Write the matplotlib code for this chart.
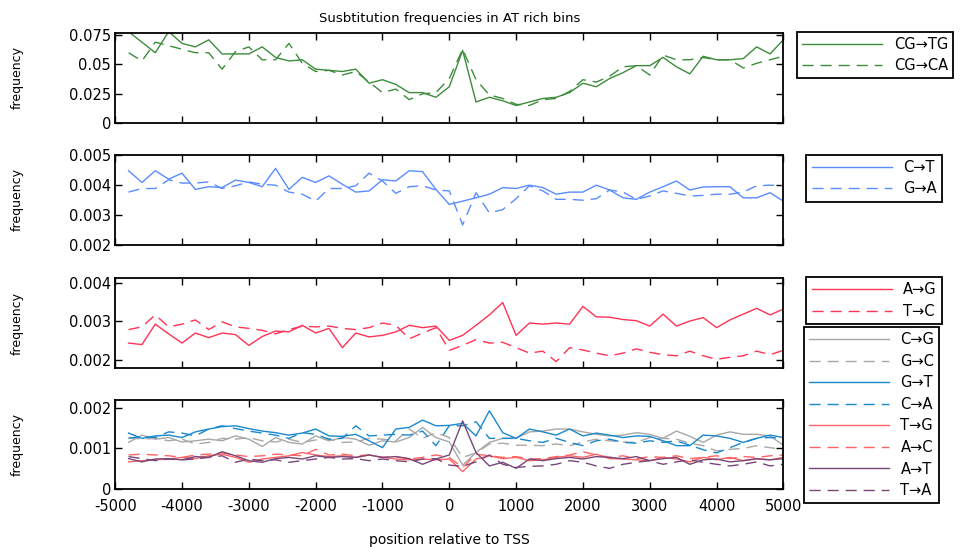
import numpy as np
import matplotlib
matplotlib.use('Agg')
import matplotlib.pyplot as plt
from matplotlib.ticker import FuncFormatter

# bin centres relative to the TSS
pos = list(range(-4800, 5001, 200))

cg_tg = [0.078, 0.069, 0.060, 0.078, 0.068, 0.065, 0.071, 0.059, 0.059, 0.059,
         0.065, 0.056, 0.053, 0.054, 0.046, 0.045, 0.044, 0.046, 0.034, 0.037,
         0.033, 0.026, 0.026, 0.022, 0.031, 0.062, 0.018, 0.022, 0.019, 0.015,
         0.018, 0.021, 0.022, 0.026, 0.034, 0.031, 0.038, 0.043, 0.049, 0.049,
         0.056, 0.048, 0.042, 0.057, 0.054, 0.054, 0.055, 0.065, 0.059, 0.071]
cg_ca = [0.060, 0.053, 0.069, 0.066, 0.063, 0.060, 0.060, 0.046, 0.061, 0.065,
         0.054, 0.054, 0.068, 0.051, 0.044, 0.045, 0.041, 0.044, 0.035, 0.026,
         0.029, 0.020, 0.025, 0.026, 0.038, 0.063, 0.037, 0.024, 0.021, 0.016,
         0.015, 0.020, 0.021, 0.027, 0.037, 0.035, 0.040, 0.048, 0.049, 0.041,
         0.058, 0.054, 0.054, 0.056, 0.054, 0.054, 0.047, 0.051, 0.054, 0.057]

c_t = [0.00447, 0.00408, 0.00447, 0.00419, 0.00439, 0.00385, 0.00394, 0.00391, 0.00416, 0.00408,
       0.00394, 0.00455, 0.00385, 0.00425, 0.00408, 0.00430, 0.00402, 0.00376, 0.00380, 0.00417,
       0.00413, 0.00447, 0.00444, 0.00385, 0.00335, 0.00346, 0.00357, 0.00369, 0.00391, 0.00388,
       0.00399, 0.00391, 0.00369, 0.00376, 0.00376, 0.00399, 0.00383, 0.00357, 0.00352, 0.00376,
       0.00394, 0.00413, 0.00383, 0.00393, 0.00394, 0.00394, 0.00357, 0.00357, 0.00374, 0.00346]
g_a = [0.00376, 0.00388, 0.00388, 0.00417, 0.00406, 0.00406, 0.00410, 0.00388, 0.00397, 0.00410,
       0.00402, 0.00399, 0.00376, 0.00369, 0.00346, 0.00388, 0.00388, 0.00397, 0.00439, 0.00413,
       0.00372, 0.00394, 0.00397, 0.00383, 0.00380, 0.00267, 0.00374, 0.00307, 0.00318, 0.00354,
       0.00397, 0.00380, 0.00352, 0.00352, 0.00349, 0.00354, 0.00383, 0.00376, 0.00352, 0.00363,
       0.00380, 0.00372, 0.00363, 0.00365, 0.00369, 0.00369, 0.00376, 0.00397, 0.00399, 0.00397]

a_g = [0.00244, 0.00240, 0.00293, 0.00268, 0.00244, 0.00270, 0.00258, 0.00270, 0.00266, 0.00238,
       0.00261, 0.00275, 0.00273, 0.00290, 0.00270, 0.00282, 0.00232, 0.00270, 0.00260, 0.00264,
       0.00273, 0.00290, 0.00284, 0.00288, 0.00251, 0.00264, 0.00290, 0.00317, 0.00349, 0.00264,
       0.00296, 0.00293, 0.00296, 0.00293, 0.00339, 0.00312, 0.00311, 0.00305, 0.00302, 0.00288,
       0.00319, 0.00288, 0.00301, 0.00310, 0.00284, 0.00304, 0.00319, 0.00334, 0.00317, 0.00332]
t_c = [0.00279, 0.00286, 0.00317, 0.00286, 0.00293, 0.00304, 0.00279, 0.00299, 0.00286, 0.00282,
       0.00277, 0.00268, 0.00279, 0.00288, 0.00286, 0.00288, 0.00282, 0.00279, 0.00284, 0.00296,
       0.00290, 0.00255, 0.00270, 0.00284, 0.00225, 0.00238, 0.00253, 0.00244, 0.00246, 0.00232,
       0.00218, 0.00223, 0.00196, 0.00232, 0.00226, 0.00218, 0.00211, 0.00218, 0.00229, 0.00220,
       0.00214, 0.00211, 0.00223, 0.00211, 0.00202, 0.00207, 0.00211, 0.00223, 0.00214, 0.00225]

c_g = [0.00115, 0.00133, 0.00123, 0.00127, 0.00116, 0.00119, 0.00123, 0.00119, 0.00131, 0.00123,
       0.00105, 0.00127, 0.00115, 0.00111, 0.00131, 0.00119, 0.00127, 0.00123, 0.00108, 0.00119,
       0.00116, 0.00127, 0.00152, 0.00127, 0.00116, 0.00059, 0.00090, 0.00115, 0.00125, 0.00125,
       0.00141, 0.00143, 0.00148, 0.00148, 0.00141, 0.00135, 0.00131, 0.00133, 0.00139, 0.00135,
       0.00125, 0.00143, 0.00130, 0.00115, 0.00133, 0.00141, 0.00135, 0.00135, 0.00131, 0.00108]
g_c = [0.00127, 0.00123, 0.00125, 0.00119, 0.00123, 0.00111, 0.00115, 0.00125, 0.00123, 0.00127,
       0.00119, 0.00116, 0.00123, 0.00115, 0.00121, 0.00123, 0.00115, 0.00116, 0.00125, 0.00123,
       0.00119, 0.00148, 0.00125, 0.00139, 0.00127, 0.00078, 0.00089, 0.00111, 0.00113, 0.00108,
       0.00108, 0.00107, 0.00111, 0.00107, 0.00116, 0.00123, 0.00119, 0.00116, 0.00115, 0.00127,
       0.00125, 0.00123, 0.00113, 0.00107, 0.00094, 0.00098, 0.00100, 0.00107, 0.00102, 0.00098]
g_t = [0.00138, 0.00125, 0.00131, 0.00133, 0.00127, 0.00141, 0.00148, 0.00154, 0.00156, 0.00149,
       0.00143, 0.00139, 0.00133, 0.00138, 0.00148, 0.00131, 0.00130, 0.00135, 0.00119, 0.00102,
       0.00148, 0.00152, 0.00170, 0.00156, 0.00157, 0.00162, 0.00131, 0.00193, 0.00139, 0.00125,
       0.00148, 0.00141, 0.00133, 0.00148, 0.00131, 0.00138, 0.00133, 0.00127, 0.00131, 0.00130,
       0.00119, 0.00107, 0.00107, 0.00133, 0.00131, 0.00125, 0.00115, 0.00125, 0.00133, 0.00127]
c_a = [0.00125, 0.00130, 0.00127, 0.00141, 0.00138, 0.00131, 0.00148, 0.00156, 0.00149, 0.00143,
       0.00138, 0.00133, 0.00125, 0.00139, 0.00135, 0.00123, 0.00125, 0.00156, 0.00131, 0.00133,
       0.00135, 0.00133, 0.00143, 0.00107, 0.00156, 0.00156, 0.00166, 0.00125, 0.00125, 0.00125,
       0.00119, 0.00115, 0.00125, 0.00115, 0.00107, 0.00119, 0.00123, 0.00115, 0.00113, 0.00119,
       0.00115, 0.00119, 0.00108, 0.00097, 0.00089, 0.00102, 0.00115, 0.00125, 0.00127, 0.00125]
t_g = [0.00067, 0.00070, 0.00072, 0.00074, 0.00078, 0.00075, 0.00082, 0.00086, 0.00078, 0.00066,
       0.00074, 0.00078, 0.00082, 0.00090, 0.00084, 0.00080, 0.00082, 0.00078, 0.00084, 0.00078,
       0.00074, 0.00072, 0.00074, 0.00072, 0.00074, 0.00043, 0.00074, 0.00082, 0.00075, 0.00078,
       0.00070, 0.00072, 0.00078, 0.00082, 0.00078, 0.00086, 0.00075, 0.00074, 0.00072, 0.00070,
       0.00078, 0.00074, 0.00067, 0.00078, 0.00072, 0.00078, 0.00070, 0.00074, 0.00072, 0.00078]
a_c = [0.00084, 0.00086, 0.00084, 0.00082, 0.00078, 0.00084, 0.00086, 0.00089, 0.00084, 0.00080,
       0.00082, 0.00086, 0.00084, 0.00082, 0.00098, 0.00084, 0.00086, 0.00082, 0.00084, 0.00078,
       0.00080, 0.00074, 0.00078, 0.00084, 0.00078, 0.00053, 0.00086, 0.00082, 0.00078, 0.00080,
       0.00074, 0.00075, 0.00080, 0.00084, 0.00092, 0.00084, 0.00078, 0.00082, 0.00075, 0.00080,
       0.00078, 0.00082, 0.00075, 0.00078, 0.00082, 0.00075, 0.00080, 0.00078, 0.00082, 0.00084]
a_t = [0.00075, 0.00067, 0.00074, 0.00075, 0.00072, 0.00080, 0.00078, 0.00092, 0.00082, 0.00070,
       0.00066, 0.00075, 0.00078, 0.00074, 0.00082, 0.00078, 0.00080, 0.00078, 0.00084, 0.00078,
       0.00080, 0.00075, 0.00061, 0.00074, 0.00084, 0.00168, 0.00090, 0.00057, 0.00066, 0.00051,
       0.00074, 0.00070, 0.00075, 0.00078, 0.00074, 0.00080, 0.00078, 0.00075, 0.00080, 0.00070,
       0.00075, 0.00078, 0.00061, 0.00072, 0.00074, 0.00067, 0.00070, 0.00075, 0.00072, 0.00075]
t_a = [0.00080, 0.00075, 0.00070, 0.00074, 0.00072, 0.00074, 0.00078, 0.00082, 0.00066, 0.00074,
       0.00070, 0.00072, 0.00066, 0.00070, 0.00074, 0.00078, 0.00074, 0.00075, 0.00070, 0.00074,
       0.00070, 0.00067, 0.00074, 0.00075, 0.00059, 0.00056, 0.00067, 0.00084, 0.00061, 0.00053,
       0.00056, 0.00057, 0.00061, 0.00070, 0.00066, 0.00057, 0.00051, 0.00061, 0.00066, 0.00070,
       0.00061, 0.00067, 0.00072, 0.00066, 0.00061, 0.00057, 0.00061, 0.00067, 0.00057, 0.00061]

dash = (0, (8, 5))
green = '#3c8c3c'
lblue = '#5a8cff'
red = '#ff3355'
gray = '#a8a8a8'
blue = '#1a88cc'
lred = '#ff6464'
purple = '#77477a'

panels = [
    {'series': [(cg_tg, green, '-', 'CG→TG'), (cg_ca, green, dash, 'CG→CA')],
     'ylim': (0, 0.077), 'yticks': [0, 0.025, 0.05, 0.075]},
    {'series': [(c_t, lblue, '-', 'C→T'), (g_a, lblue, dash, 'G→A')],
     'ylim': (0.002, 0.005), 'yticks': [0.002, 0.003, 0.004, 0.005]},
    {'series': [(a_g, red, '-', 'A→G'), (t_c, red, dash, 'T→C')],
     'ylim': (0.00179, 0.00413), 'yticks': [0.002, 0.003, 0.004]},
    {'series': [(c_g, gray, '-', 'C→G'), (g_c, gray, dash, 'G→C'),
                (g_t, blue, '-', 'G→T'), (c_a, blue, dash, 'C→A'),
                (t_g, lred, '-', 'T→G'), (a_c, lred, dash, 'A→C'),
                (a_t, purple, '-', 'A→T'), (t_a, purple, dash, 'T→A')],
     'ylim': (0, 0.0022), 'yticks': [0, 0.001, 0.002]},
]

# axes rectangles and legend anchors in figure fractions
rects = [(0.120, 0.775, 0.696, 0.165),
         (0.120, 0.552, 0.696, 0.165),
         (0.120, 0.327, 0.696, 0.165),
         (0.120, 0.106, 0.696, 0.163)]
leg_anchor = [(0.830, 0.942), (0.840, 0.717), (0.840, 0.493), (0.837, 0.402)]

plt.rcParams['font.family'] = 'DejaVu Sans'
plt.rcParams['axes.unicode_minus'] = False
fig = plt.figure(figsize=(9.6, 5.47), dpi=100)

for k, p in enumerate(panels):
    ax = fig.add_axes(rects[k])
    for vals, col, ls, lab in p['series']:
        ax.plot(pos, vals, color=col, linestyle=ls, linewidth=1.0, label=lab)
    ax.set_xlim(-5000, 5000)
    ax.set_ylim(*p['ylim'])
    ax.set_xticks(range(-5000, 5001, 1000))
    ax.set_yticks(p['yticks'])
    ax.yaxis.set_major_formatter(FuncFormatter(lambda v, _: '%g' % v))
    ax.tick_params(direction='in', length=5, width=1, top=True, right=True,
                   labelsize=10.5, colors='black', pad=3)
    ax.tick_params(axis='x', pad=7)
    for s in ax.spines.values():
        s.set_linewidth(1.3)
    if k < 3:
        ax.tick_params(labelbottom=False)
    ax.set_ylabel('frequency', fontsize=9)
    ax.yaxis.set_label_coords(-0.137, 0.5)
    leg = ax.legend(loc='upper left', bbox_to_anchor=leg_anchor[k],
                    bbox_transform=fig.transFigure, fancybox=False,
                    edgecolor='black', framealpha=1, fontsize=10.5,
                    handlelength=5.5, handletextpad=0.8, borderpad=0.35,
                    labelspacing=0.45, borderaxespad=0)
    leg.get_frame().set_linewidth(1.3)
    if k == 0:
        ax.set_title('Susbtitution frequencies in AT rich bins', fontsize=9.5, pad=8)
    if k == 3:
        ax.set_xlabel('position relative to TSS', fontsize=10, labelpad=14)

fig.savefig('out.png', dpi=100)
